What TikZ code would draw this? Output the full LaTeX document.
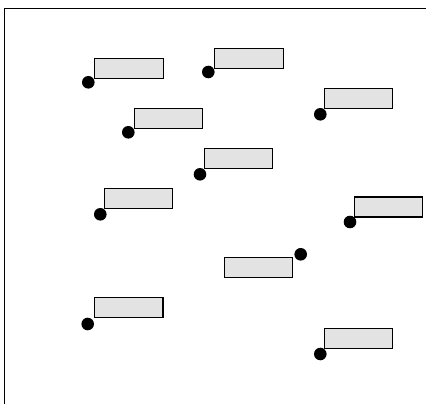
\documentclass[tikz,border=0pt]{standalone}
\usetikzlibrary{positioning}
\definecolor{tagfill}{HTML}{E3E3E3}
\tikzset{
  every picture/.style={line width=1.2pt},
  tag/.style={draw=black, fill=tagfill, minimum width=68.4pt, minimum height=20pt, inner sep=0pt},
  dot/.style={circle, fill=black, minimum size=12.6pt, inner sep=0pt},
}

\begin{document}
\begin{tikzpicture}[x=1pt, y=-1pt]
  \useasboundingbox (0,0) rectangle (426,404);
  % frame, cut off at right and bottom
  \coordinate (fa) at (4.5,410);
  \coordinate (fb) at (430,8.5);
  \draw[line width=1.5pt] (fa) |- (fb);
  % points with their labels
  \foreach \i/\bx/\by/\dx/\dy in {1/129/68.7/88.3/82.3, 2/249/58.7/208.3/72, 3/358.5/98.7/320.3/114.3,
      4/168.5/118.7/128.3/132.3, 5/238.5/158.7/200/174.3, 6/138.5/198.7/100.3/214.3,
      7/388.5/207/350/222, 8/258.5/267.3/300.7/254.3, 9/128.8/307.3/87.7/324,
      10/358.5/338.3/320.3/354} {
    \node[tag] (t\i) at (\bx,\by) {};
    \node[dot] (d\i) at (\dx,\dy) {};
  }
\end{tikzpicture}
\end{document}
